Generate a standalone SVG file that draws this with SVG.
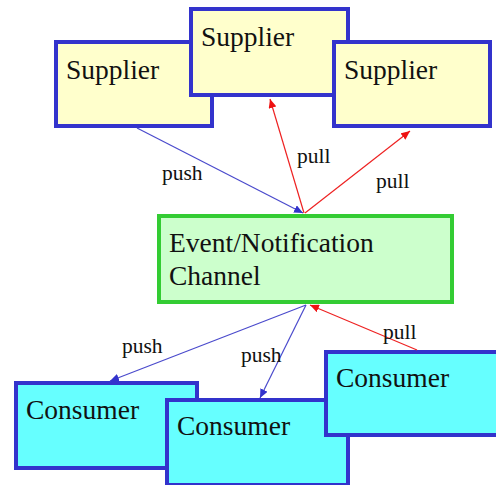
<svg xmlns="http://www.w3.org/2000/svg" width="496" height="485" viewBox="0 0 496 485">
<defs>
<style>
.sup{fill:#ffffcc;stroke:#3333cc;stroke-width:4}
.con{fill:#66ffff;stroke:#3333cc;stroke-width:4}
.chan{fill:#ccffcc;stroke:#33cc33;stroke-width:4}
.big{font-family:"Liberation Serif","Times New Roman",serif;font-size:27.5px;fill:#111}
.lbl{font-family:"Liberation Serif","Times New Roman",serif;font-size:21.5px;fill:#111}
.push{stroke:#4a4acc;stroke-width:1.2;fill:none;marker-end:url(#ab)}
.pull{stroke:#ee2222;stroke-width:1.2;fill:none;marker-end:url(#ar)}
</style>
<marker id="ab" markerUnits="userSpaceOnUse" markerWidth="10" markerHeight="8" refX="9" refY="4" orient="auto"><path d="M0,0 L9,4 L0,8 z" fill="#3333cc"/></marker>
<marker id="ar" markerUnits="userSpaceOnUse" markerWidth="10" markerHeight="8" refX="9" refY="4" orient="auto"><path d="M0,0 L9,4 L0,8 z" fill="#ee1111"/></marker>
</defs>
<rect width="496" height="485" fill="#ffffff"/>
<g id="supplier1"><rect class="sup" x="56" y="42" width="156" height="84"/><text class="big" x="66" y="79">Supplier</text></g>
<g id="supplier2"><rect class="sup" x="191" y="9" width="157" height="86"/><text class="big" x="201" y="46">Supplier</text></g>
<g id="supplier3"><rect class="sup" x="334" y="42" width="156" height="84"/><text class="big" x="344" y="79">Supplier</text></g>
<g id="channel"><rect class="chan" x="159" y="216" width="293" height="86"/><text class="big" x="169" y="252">Event/Notification</text><text class="big" x="169" y="285">Channel</text></g>
<g id="consumer1"><rect class="con" x="16" y="383" width="181" height="85"/><text class="big" x="26" y="419">Consumer</text></g>
<g id="consumer2"><rect class="con" x="167" y="400" width="181" height="85"/><text class="big" x="177" y="435">Consumer</text></g>
<g id="consumer3"><rect class="con" x="326" y="352" width="176" height="83"/><text class="big" x="336" y="387">Consumer</text></g>
<g id="connectors">
<line class="push" x1="137" y1="128" x2="303" y2="213"/>
<line class="pull" x1="304" y1="213" x2="270" y2="99"/>
<line class="pull" x1="305" y1="213" x2="410" y2="131"/>
<line class="push" x1="306" y1="305" x2="110" y2="381"/>
<line class="push" x1="306" y1="305" x2="260" y2="398"/>
<line class="pull" x1="417" y1="350" x2="310" y2="305"/>
<text class="lbl" x="162" y="180">push</text>
<text class="lbl" x="297" y="163">pull</text>
<text class="lbl" x="376" y="188">pull</text>
<text class="lbl" x="122" y="353">push</text>
<text class="lbl" x="241" y="362">push</text>
<text class="lbl" x="383" y="339">pull</text>
</g>
</svg>
